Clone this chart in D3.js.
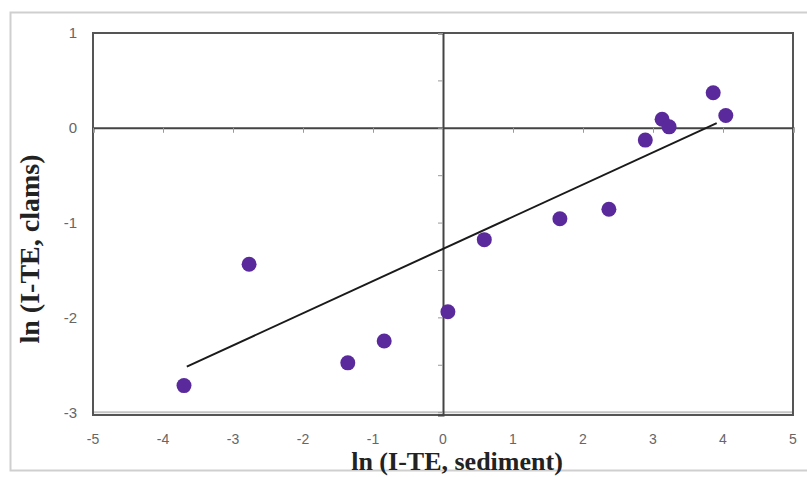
<!DOCTYPE html>
<html>
<head>
<meta charset="utf-8">
<script src="https://cdn.jsdelivr.net/npm/d3@7"></script>
<style>
  body { margin: 0; background: #fff; }
  #graphArea { width: 807px; height: 477px; }
</style>
</head>
<body>
<div id="graphArea"></div>
<script>
var sedimentX = [-3.7, -2.77, -1.36, -0.84, 0.07, 0.59, 1.67, 2.37, 2.89, 3.13, 3.23, 3.86, 4.04]
var clamsY = [-2.72, -1.44, -2.48, -2.25, -1.94, -1.18, -0.96, -0.86, -0.13, 0.09, 0.01, 0.37, 0.13]
var trendX = [-3.66, 3.91]
var trendY = [-2.52, 0.05]
var xTicks = [-5, -4, -3, -2, -1, 0, 1, 2, 3, 4, 5]
var yTicks = [1, 0, -1, -2, -3]
var yMinorTicks = [1, 0.5, 0, -0.5, -1, -1.5, -2, -2.5, -3]

var margin = { top: 33, left: 93, bottom: 62, right: 14 }
var width = 807 - margin.left - margin.right
var height = 477 - margin.top - margin.bottom

var svg = d3.select("#graphArea").append("svg")
	.attr("width", 807)
	.attr("height", 477)

// outer chart frame
svg.append("rect")
	.attr("x", 10.5).attr("y", 12.5)
	.attr("width", 820).attr("height", 458)
	.attr("fill", "none")
	.attr("stroke", "#cfcfcf")
	.attr("stroke-width", 2)

var g = svg.append("g")
	.attr("transform", "translate(" + margin.left + "," + margin.top + ")")

var x = d3.scaleLinear().domain([-5, 5]).range([0, width])
var y = d3.scaleLinear().domain([-3.03, 1]).range([height, 0])

// light line at y=-3
g.append("line")
	.attr("x1", 0).attr("x2", width)
	.attr("y1", y(-3)).attr("y2", y(-3))
	.attr("stroke", "#c4c4c4")
	.attr("stroke-width", 2)

// plot area frame
g.append("rect")
	.attr("x", 0).attr("y", 0)
	.attr("width", width).attr("height", height)
	.attr("fill", "none")
	.attr("stroke", "#555")
	.attr("stroke-width", 2)

// axes through the origin
var xAxis = d3.axisBottom(x).tickValues(xTicks).tickSize(5).tickFormat("")
g.append("g")
	.attr("transform", "translate(0," + y(0) + ")")
	.call(xAxis)
	.call(function(a) {
		a.select(".domain").attr("stroke", "#444").attr("stroke-width", 2)
		a.selectAll(".tick line").attr("stroke", "#999")
	})

var yAxis = d3.axisLeft(y).tickValues(yMinorTicks).tickSize(5).tickFormat("")
g.append("g")
	.attr("transform", "translate(" + x(0) + ",0)")
	.call(yAxis)
	.call(function(a) {
		a.select(".domain").attr("stroke", "#444").attr("stroke-width", 2)
		a.selectAll(".tick line").attr("stroke", "#999")
	})

// tick labels along the frame
g.selectAll(".xlab")
	.data(xTicks)
	.enter().append("text")
	.attr("class", "xlab")
	.attr("x", function(d) { return x(d) })
	.attr("y", height + 29)
	.attr("text-anchor", "middle")
	.attr("font-family", "Arial, 'Liberation Sans', sans-serif")
	.attr("font-size", 14)
	.attr("fill", "#666")
	.text(function(d) { return d })

g.selectAll(".ylab")
	.data(yTicks)
	.enter().append("text")
	.attr("class", "ylab")
	.attr("x", -16)
	.attr("y", function(d) { return y(d) })
	.attr("dy", "0.36em")
	.attr("text-anchor", "end")
	.attr("font-family", "Arial, 'Liberation Sans', sans-serif")
	.attr("font-size", 15)
	.attr("fill", "#666")
	.text(function(d) { return d })

// trend line
var line = d3.line()
	.x(function(d) { return x(d[0]) })
	.y(function(d) { return y(d[1]) })
g.append("path")
	.datum(d3.zip(trendX, trendY))
	.attr("d", line)
	.attr("fill", "none")
	.attr("stroke", "#1a1a1a")
	.attr("stroke-width", 2)

// points
g.selectAll(".dot")
	.data(d3.zip(sedimentX, clamsY))
	.enter().append("circle")
	.attr("class", "dot")
	.attr("cx", function(d) { return x(d[0]) })
	.attr("cy", function(d) { return y(d[1]) })
	.attr("r", 7.5)
	.attr("fill", "#5a2a9c")

// axis titles
svg.append("text")
	.attr("x", 457)
	.attr("y", 470)
	.attr("text-anchor", "middle")
	.attr("font-family", "'Liberation Serif', 'Times New Roman', serif")
	.attr("font-weight", "bold")
	.attr("font-size", 26)
	.attr("fill", "#222")
	.text("ln (I-TE, sediment)")

svg.append("text")
	.attr("transform", "translate(39,249) rotate(-90)")
	.attr("text-anchor", "middle")
	.attr("font-family", "'Liberation Serif', 'Times New Roman', serif")
	.attr("font-weight", "bold")
	.attr("font-size", 28)
	.attr("fill", "#222")
	.text("ln (I-TE, clams)")
</script>
</body>
</html>
